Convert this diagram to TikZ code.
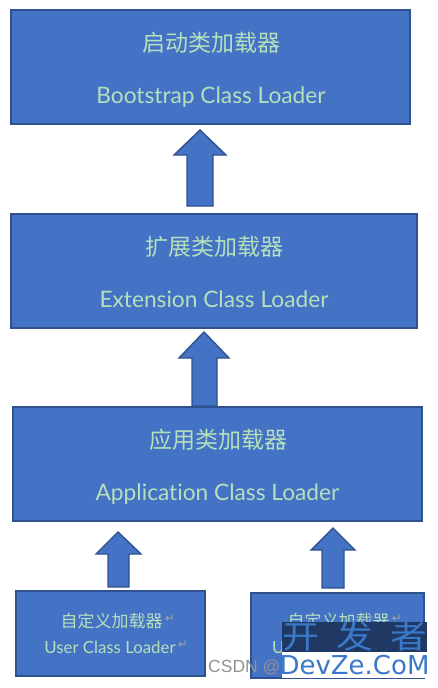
\documentclass[tikz,border=0pt]{standalone}
\usepackage{graphicx}
\usepackage{fontspec}
\setmainfont[Ligatures=NoCommon]{Lato}
\newfontfamily\cjk{Noto Sans CJK SC}
\newfontfamily\djv{DejaVu Sans}
\newfontfamily\wm{DejaVu Sans}
\newfontfamily\csdn{Liberation Sans}
\definecolor{fillblue}{HTML}{4472C4}
\definecolor{edgeblue}{HTML}{2F528F}
\definecolor{txtgreen}{HTML}{B4E0BC}
\definecolor{navy}{HTML}{1F3864}
\definecolor{wmblue}{HTML}{3A78C8}
\tikzset{
  loaderbox/.style={draw=edgeblue,fill=fillblue,line width=1.6pt},
  blockarrow/.style={draw=edgeblue,fill=fillblue,line width=1.4pt,line join=miter},
  bigcn/.style={text=txtgreen,inner sep=0pt,font=\cjk\fontsize{23}{24}\selectfont},
  bigen/.style={text=txtgreen,inner sep=0pt,font=\fontsize{22.7}{24}\selectfont},
  smallcn/.style={text=txtgreen,inner sep=0pt,font=\cjk\fontsize{17}{18}\selectfont},
  smallen/.style={text=txtgreen,inner sep=0pt,font=\fontsize{16.8}{18}\selectfont},
  retmark/.style={text=gray!70,inner sep=0pt,font=\djv\fontsize{12}{12}\selectfont},
}
\begin{document}
\begin{tikzpicture}[x=1pt,y=-1pt]
\useasboundingbox (0,0) rectangle (438,688);
\fill[white] (0,0) rectangle (438,688);
% boxes
\draw[loaderbox] (11,10) rectangle (410,124);
\draw[loaderbox] (11,214) rectangle (417,328);
\draw[loaderbox] (13,407) rectangle (422,521);
\draw[loaderbox] (16,591) rectangle (205,676);
\draw[loaderbox] (251,593) rectangle (424,678);
% block arrows
\draw[blockarrow] (200,130) -- (226,155) -- (213,155) -- (213,206) -- (187,206) -- (187,155) -- (174,155) -- cycle;
\draw[blockarrow] (204,332) -- (229,358) -- (217,358) -- (217,406) -- (192,406) -- (192,358) -- (179,358) -- cycle;
\draw[blockarrow] (118,532) -- (141,554) -- (129,554) -- (129,587) -- (108,587) -- (108,554) -- (96,554) -- cycle;
\draw[blockarrow] (333,528) -- (355,550) -- (344,550) -- (344,588) -- (322,588) -- (322,550) -- (311,550) -- cycle;
% labels
\node[bigcn] (t1a) at (211,43) {启动类加载器};
\node[bigen] (t1b) at (211,97) {Bootstrap Class Loader};
\node[bigcn] (t2a) at (214.5,247) {扩展类加载器};
\node[bigen] (t2b) at (214,299.5) {Extension Class Loader};
\node[bigcn] (t3a) at (218,440) {应用类加载器};
\node[bigen] (t3b) at (217.5,494.5) {Application Class Loader};
\node[smallcn] (t4a) at (111.5,621) {自定义加载器};
\node[smallen] (t4b) at (110,647) {User Class Loader};
\node[retmark] (r4a) at (170,619) {↵};
\node[retmark] (r4b) at (183,645) {↵};
\node[smallcn] (t5a) at (338.5,621) {自定义加载器};
\node[smallen] (t5b) at (272,648) [anchor=west] {U};
\node[retmark] (r5a) at (397,619) {↵};
% watermark
\node[text=gray!85,inner sep=0pt,anchor=west,font=\csdn\fontsize{17.5}{17}\selectfont] (wm0) at (208,667) {CSDN @};
\fill[navy] (282,622) rectangle (427,652);
\fill[white] (282,652) rectangle (427,678);
\node[text=wmblue,inner sep=0pt,font=\cjk\fontsize{32}{32}\selectfont] (wm1) at (354.5,636) {\scalebox{1.15}[1]{开\hspace{0.47em}发\hspace{0.47em}者}};
\node[text=wmblue,inner sep=0pt,font=\wm\fontsize{26}{26}\selectfont] (wm2) at (354.5,665) {DevZe.CoM};
\end{tikzpicture}
\end{document}
